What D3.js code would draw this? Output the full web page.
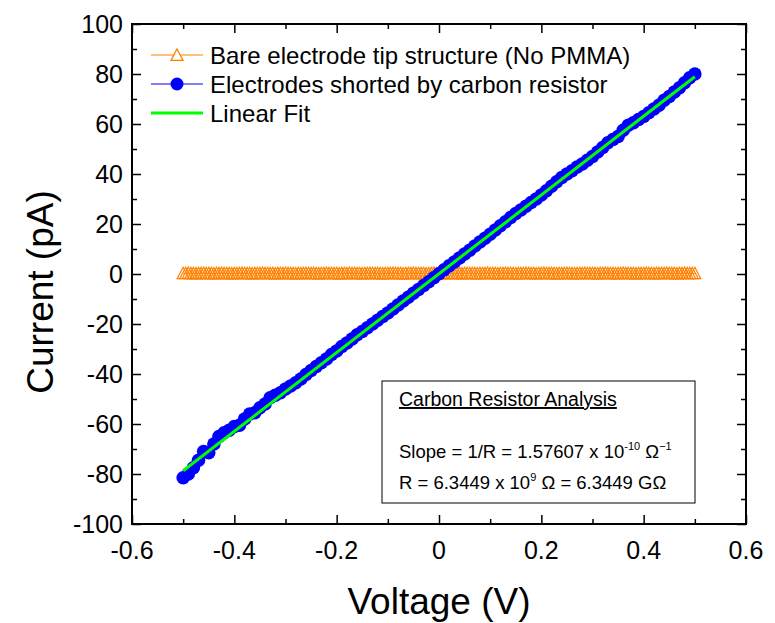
<!DOCTYPE html>
<html>
<head>
<meta charset="utf-8">
<script src="https://cdn.jsdelivr.net/npm/d3@7"></script>
<style>
  body { margin: 0; background: #fff; }
  svg { font-family: Arial, "Liberation Sans", sans-serif; }
</style>
</head>
<body>
<div class="container"></div>
<script>
// I-V sweep of the carbon resistor
var voltage = [
  -0.50,-0.49,-0.48,-0.47,-0.46,-0.45,-0.44,-0.43,-0.42,-0.41,
  -0.40,-0.39,-0.38,-0.37,-0.36,-0.35,-0.34,-0.33,-0.32,-0.31,
  -0.30,-0.29,-0.28,-0.27,-0.26,-0.25,-0.24,-0.23,-0.22,-0.21,
  -0.20,-0.19,-0.18,-0.17,-0.16,-0.15,-0.14,-0.13,-0.12,-0.11,
  -0.10,-0.09,-0.08,-0.07,-0.06,-0.05,-0.04,-0.03,-0.02,-0.01,
  0.00,0.01,0.02,0.03,0.04,0.05,0.06,0.07,0.08,0.09,
  0.10,0.11,0.12,0.13,0.14,0.15,0.16,0.17,0.18,0.19,
  0.20,0.21,0.22,0.23,0.24,0.25,0.26,0.27,0.28,0.29,
  0.30,0.31,0.32,0.33,0.34,0.35,0.36,0.37,0.38,0.39,
  0.40,0.41,0.42,0.43,0.44,0.45,0.46,0.47,0.48,0.49,0.50
];

// electrodes shorted by carbon resistor (pA)
var currentCarbon = [
  -81.5,-80.0,-77.5,-74.5,-71.0,-71.5,-68.0,-65.0,-63.5,-62.5,
  -61.0,-60.5,-58.0,-56.0,-55.5,-53.5,-52.0,-49.5,-48.5,-47.5,
  -46.0,-44.8,-43.5,-42.0,-40.2,-38.6,-37.0,-35.5,-34.0,-32.2,
  -30.8,-29.0,-27.6,-26.0,-24.3,-23.0,-21.5,-20.0,-18.5,-17.0,
  -15.6,-14.0,-12.4,-10.8,-9.3,-7.7,-6.2,-4.6,-3.1,-1.5,
  0.1,1.7,3.3,4.8,6.4,8.0,9.5,11.2,12.8,14.3,
  15.9,17.6,19.3,20.9,22.6,24.2,25.6,27.1,28.6,30.0,
  31.6,33.3,35.1,36.9,38.6,40.0,41.3,42.8,44.0,45.5,
  47.0,48.8,50.6,52.5,53.8,55.0,57.5,59.5,60.5,61.8,
  63.0,64.5,66.0,67.5,69.5,71.0,72.8,74.5,76.5,78.5,80.0
];

// bare tip sweep (finer steps)
var voltageBare = [
  -0.500,-0.495,-0.490,-0.485,-0.480,-0.475,-0.470,-0.465,-0.460,-0.455,
  -0.450,-0.445,-0.440,-0.435,-0.430,-0.425,-0.420,-0.415,-0.410,-0.405,
  -0.400,-0.395,-0.390,-0.385,-0.380,-0.375,-0.370,-0.365,-0.360,-0.355,
  -0.350,-0.345,-0.340,-0.335,-0.330,-0.325,-0.320,-0.315,-0.310,-0.305,
  -0.300,-0.295,-0.290,-0.285,-0.280,-0.275,-0.270,-0.265,-0.260,-0.255,
  -0.250,-0.245,-0.240,-0.235,-0.230,-0.225,-0.220,-0.215,-0.210,-0.205,
  -0.200,-0.195,-0.190,-0.185,-0.180,-0.175,-0.170,-0.165,-0.160,-0.155,
  -0.150,-0.145,-0.140,-0.135,-0.130,-0.125,-0.120,-0.115,-0.110,-0.105,
  -0.100,-0.095,-0.090,-0.085,-0.080,-0.075,-0.070,-0.065,-0.060,-0.055,
  -0.050,-0.045,-0.040,-0.035,-0.030,-0.025,-0.020,-0.015,-0.010,-0.005,
  0.000,0.005,0.010,0.015,0.020,0.025,0.030,0.035,0.040,0.045,
  0.050,0.055,0.060,0.065,0.070,0.075,0.080,0.085,0.090,0.095,
  0.100,0.105,0.110,0.115,0.120,0.125,0.130,0.135,0.140,0.145,
  0.150,0.155,0.160,0.165,0.170,0.175,0.180,0.185,0.190,0.195,
  0.200,0.205,0.210,0.215,0.220,0.225,0.230,0.235,0.240,0.245,
  0.250,0.255,0.260,0.265,0.270,0.275,0.280,0.285,0.290,0.295,
  0.300,0.305,0.310,0.315,0.320,0.325,0.330,0.335,0.340,0.345,
  0.350,0.355,0.360,0.365,0.370,0.375,0.380,0.385,0.390,0.395,
  0.400,0.405,0.410,0.415,0.420,0.425,0.430,0.435,0.440,0.445,
  0.450,0.455,0.460,0.465,0.470,0.475,0.480,0.485,0.490,0.495,
  0.500
];

// bare electrode tip (no PMMA) - flat, ~0 pA
var currentBare = [
  0.3,0.3,0.4,0.3,0.3,0.2,0.3,0.3,0.4,0.3,
  0.3,0.3,0.2,0.3,0.3,0.4,0.3,0.3,0.3,0.2,
  0.3,0.3,0.3,0.4,0.3,0.3,0.3,0.2,0.3,0.3,
  0.3,0.4,0.3,0.3,0.3,0.3,0.2,0.3,0.3,0.3,
  0.4,0.3,0.3,0.3,0.2,0.3,0.3,0.3,0.4,0.3,
  0.3,0.3,0.3,0.2,0.3,0.3,0.4,0.3,0.3,0.3,
  0.3,0.2,0.3,0.3,0.3,0.4,0.3,0.3,0.3,0.3,
  0.2,0.3,0.3,0.4,0.3,0.3,0.3,0.3,0.2,0.3,
  0.3,0.3,0.4,0.3,0.3,0.3,0.2,0.3,0.3,0.3,
  0.4,0.3,0.3,0.3,0.3,0.2,0.3,0.3,0.4,0.3,
  0.3,0.3,0.2,0.3,0.4,0.3,0.3,0.3,0.3,0.2,
  0.3,0.4,0.3,0.3,0.3,0.2,0.3,0.3,0.3,0.4,
  0.3,0.3,0.3,0.2,0.3,0.3,0.4,0.3,0.3,0.3,
  0.2,0.3,0.3,0.3,0.4,0.3,0.3,0.3,0.2,0.3,
  0.3,0.4,0.3,0.3,0.3,0.3,0.2,0.3,0.3,0.3,
  0.4,0.3,0.3,0.2,0.3,0.3,0.3,0.4,0.3,0.3,
  0.3,0.3,0.2,0.3,0.3,0.4,0.3,0.3,0.3,0.2,
  0.3,0.3,0.4,0.3,0.3,0.3,0.3,0.2,0.3,0.3,
  0.3,0.4,0.3,0.3,0.2,0.3,0.3,0.3,0.3,0.4,
  0.3,0.3,0.3,0.2,0.3,0.3,0.4,0.3,0.3,0.3,
  0.3
];

// linear fit (pA per V)
var fitSlope = 157.607;
var fitIntercept = 0.1;
var fitRange = [-0.5, 0.5];

var xTicks = [-0.6, -0.4, -0.2, 0, 0.2, 0.4, 0.6];
var xMinor = [-0.5, -0.3, -0.1, 0.1, 0.3, 0.5];
var yTicks = [-100, -80, -60, -40, -20, 0, 20, 40, 60, 80, 100];
var yMinor = [-90, -70, -50, -30, -10, 10, 30, 50, 70, 90];

var legendLabels = [
  "Bare electrode tip structure (No PMMA)",
  "Electrodes shorted by carbon resistor",
  "Linear Fit"
];

var width = 775;
var height = 623;
var mLeft = 132, mRight = 746, mTop = 24, mBottom = 524;

var orange = "#ff8000";
var blue = "#0000ff";
var green = "#00ff00";

var svg = d3.select(".container").append("svg")
    .attr("width", width)
    .attr("height", height);

var x = d3.scaleLinear().domain([-0.6, 0.6]).range([mLeft, mRight]);
var y = d3.scaleLinear().domain([-100, 100]).range([mBottom, mTop]);

// axes, ticks pointing inward on all four sides
function drawAxis(axis, tx, ty, vals, size) {
  svg.append("g")
    .attr("transform", "translate(" + tx + "," + ty + ")")
    .call(axis.tickValues(vals).tickSize(size).tickFormat(""))
    .call(function (g) {
      g.select(".domain").remove();
      g.selectAll("line").attr("stroke", "#000").attr("stroke-width", 1.5);
    });
}
drawAxis(d3.axisTop(x), 0, mBottom, xMinor, 5);
drawAxis(d3.axisTop(x), 0, mBottom, xTicks, 9);
drawAxis(d3.axisBottom(x), 0, mTop, xMinor, 5);
drawAxis(d3.axisBottom(x), 0, mTop, xTicks, 9);
drawAxis(d3.axisRight(y), mLeft, 0, yMinor, 5);
drawAxis(d3.axisRight(y), mLeft, 0, yTicks, 9);
drawAxis(d3.axisLeft(y), mRight, 0, yMinor, 5);
drawAxis(d3.axisLeft(y), mRight, 0, yTicks, 9);

svg.append("rect")
  .attr("x", mLeft).attr("y", mTop)
  .attr("width", mRight - mLeft).attr("height", mBottom - mTop)
  .attr("fill", "none").attr("stroke", "#000").attr("stroke-width", 2);

// tick labels (plain hyphen minus like the original)
svg.selectAll(".xlab").data(xTicks).enter().append("text")
  .attr("x", function (d) { return x(d); })
  .attr("y", mBottom + 35)
  .attr("text-anchor", "middle")
  .attr("font-size", 25)
  .text(function (d) { return String(d); });

svg.selectAll(".ylab").data(yTicks).enter().append("text")
  .attr("x", mLeft - 9)
  .attr("y", function (d) { return y(d) + 9; })
  .attr("text-anchor", "end")
  .attr("font-size", 25)
  .text(function (d) { return String(d); });

// axis titles
svg.append("text")
  .attr("x", (mLeft + mRight) / 2)
  .attr("y", 614)
  .attr("text-anchor", "middle")
  .attr("font-size", 37)
  .text("Voltage (V)");

svg.append("text")
  .attr("transform", "translate(53,292) rotate(-90)")
  .attr("text-anchor", "middle")
  .attr("font-size", 37)
  .text("Current (pA)");

var triangle = function (cx, cy) {
  var s = 6;
  return "M" + cx + "," + (cy - s) + "L" + (cx + s) + "," + (cy + s * 0.9) +
    "L" + (cx - s) + "," + (cy + s * 0.9) + "Z";
};

// bare electrode series
var bare = voltageBare.map(function (v, i) { return [v, currentBare[i]]; });
svg.append("path")
  .attr("d", d3.line().x(function (d) { return x(d[0]); }).y(function (d) { return y(d[1]); })(bare))
  .attr("fill", "none").attr("stroke", orange).attr("stroke-width", 1);
svg.selectAll(".tri").data(bare).enter().append("path")
  .attr("class", "tri")
  .attr("d", function (d) { return triangle(x(d[0]), y(d[1])); })
  .attr("fill", "none").attr("stroke", orange).attr("stroke-width", 1.2);

// carbon resistor series
var carbon = voltage.map(function (v, i) { return [v, currentCarbon[i]]; });
svg.append("path")
  .attr("d", d3.line().x(function (d) { return x(d[0]); }).y(function (d) { return y(d[1]); })(carbon))
  .attr("fill", "none").attr("stroke", blue).attr("stroke-width", 1);
svg.selectAll(".dot").data(carbon).enter().append("circle")
  .attr("class", "dot")
  .attr("cx", function (d) { return x(d[0]); })
  .attr("cy", function (d) { return y(d[1]); })
  .attr("r", 6.8)
  .attr("fill", blue);

// fit line
svg.append("line")
  .attr("x1", x(fitRange[0])).attr("y1", y(fitSlope * fitRange[0] + fitIntercept))
  .attr("x2", x(fitRange[1])).attr("y2", y(fitSlope * fitRange[1] + fitIntercept))
  .attr("stroke", green).attr("stroke-width", 3);

// legend
var lg = svg.append("g");
var rows = [55, 84, 113];
lg.append("line").attr("x1", 151).attr("x2", 203).attr("y1", rows[0]).attr("y2", rows[0])
  .attr("stroke", orange).attr("stroke-width", 1);
lg.append("path").attr("d", triangle(177, rows[0]))
  .attr("fill", "#fff").attr("stroke", orange).attr("stroke-width", 1.3);
lg.append("line").attr("x1", 151).attr("x2", 203).attr("y1", rows[1]).attr("y2", rows[1])
  .attr("stroke", blue).attr("stroke-width", 1);
lg.append("circle").attr("cx", 177).attr("cy", rows[1]).attr("r", 6.5).attr("fill", blue);
lg.append("line").attr("x1", 151).attr("x2", 203).attr("y1", rows[2]).attr("y2", rows[2])
  .attr("stroke", green).attr("stroke-width", 3);
lg.selectAll("text").data(legendLabels).enter().append("text")
  .attr("x", 210)
  .attr("y", function (d, i) { return rows[i] + 8.5; })
  .attr("font-size", 24)
  .text(function (d) { return d; });

// annotation box
var box = svg.append("g");
box.append("rect")
  .attr("x", 382).attr("y", 381).attr("width", 313).attr("height", 122)
  .attr("fill", "#fff").attr("stroke", "#000").attr("stroke-width", 1);
box.append("text").attr("x", 399).attr("y", 406).attr("font-size", 19.5)
  .attr("text-decoration", "underline")
  .text("Carbon Resistor Analysis");

var t1 = box.append("text").attr("x", 399).attr("y", 458).attr("font-size", 18.5);
t1.append("tspan").text("Slope = 1/R = 1.57607 x 10");
t1.append("tspan").attr("dy", -8).attr("font-size", 11).text("-10");
t1.append("tspan").attr("dy", 8).text(" \u03a9");
t1.append("tspan").attr("dy", -8).attr("font-size", 11).text("\u22121");

var t2 = box.append("text").attr("x", 399).attr("y", 489).attr("font-size", 18.5);
t2.append("tspan").text("R = 6.3449 x 10");
t2.append("tspan").attr("dy", -8).attr("font-size", 11).text("9");
t2.append("tspan").attr("dy", 8).text(" \u03a9 = 6.3449 G\u03a9");
</script>
</body>
</html>
